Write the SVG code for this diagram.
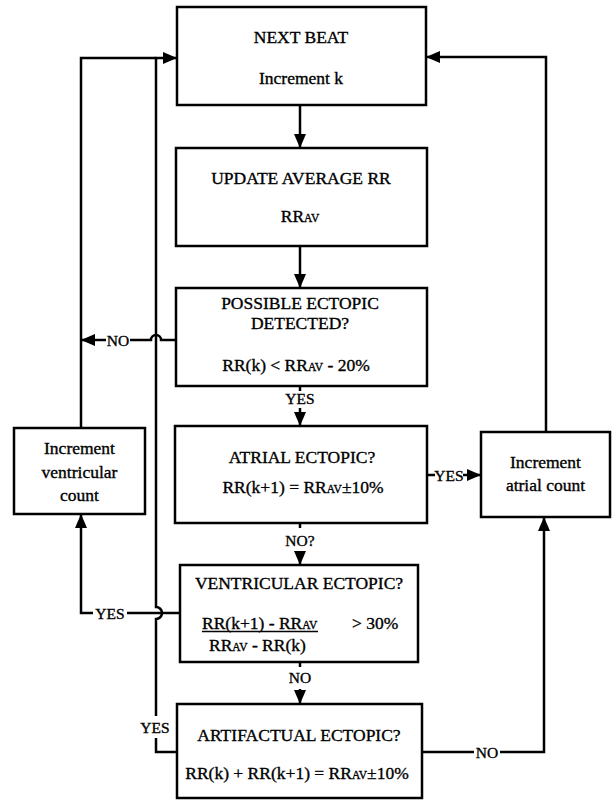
<svg xmlns="http://www.w3.org/2000/svg" width="612" height="801" viewBox="0 0 612 801">
<style>
.box{fill:#fff;stroke:#000;stroke-width:2.5}
text{font-family:'Liberation Serif','DejaVu Serif',serif;fill:#000;stroke:#000;stroke-width:0.35;text-anchor:middle}
.t{font-size:17.5px}
.l{font-size:15.5px}
.s{font-size:11.5px}
.st{text-anchor:start}
.c{fill:none;stroke:#000;stroke-width:2.5}
.a{marker-end:url(#ah)}
</style>
<defs>
<marker id="ah" viewBox="0 0 14 12" refX="14" refY="6" markerWidth="14" markerHeight="12" orient="auto" markerUnits="userSpaceOnUse"><path d="M0,0 L14,6 L0,12 z" fill="#000"/></marker>
</defs>
<rect width="612" height="801" fill="#fff"/>
<g id="connectors">
<path class="c a" d="M300,105 V148"/>
<path class="c a" d="M300,246 V288"/>
<path class="c" d="M300,386 V391"/>
<path class="c a" d="M300,408 V426"/>
<path class="c" d="M300,523 V528"/>
<path class="c a" d="M300,551 V565"/>
<path class="c" d="M300,662 V667"/>
<path class="c a" d="M300,689 V704"/>
<path class="c" d="M176,340 H161 A5,5 0 0 0 151,340 H130"/>
<path class="c a" d="M106,340 H81"/>
<path class="c" d="M81,428 V58 H156"/>
<path class="c" d="M177,752 H156 V738"/>
<path class="c a" d="M156,716 V619 A6,6 0 0 0 156,607 V58 H177"/>
<path class="c" d="M180,613 H127"/>
<path class="c a" d="M93,613 H81 V514"/>
<path class="c" d="M427,475 H435"/>
<path class="c a" d="M463,475 H481"/>
<path class="c a" d="M546,432 V57 H426"/>
<path class="c" d="M422,752 H474"/>
<path class="c a" d="M500,752 H544 V517"/>
<text class="l" x="300" y="403.5">YES</text>
<text class="l" x="300" y="545.5">NO?</text>
<text class="l" x="300" y="682.5">NO</text>
<text class="l" x="118" y="345.5">NO</text>
<text class="l" x="110" y="618.5">YES</text>
<text class="l" x="449" y="480.5">YES</text>
<text class="l" x="487" y="757.5">NO</text>
<text class="l" x="155" y="732.5">YES</text>
</g>
<g id="next-beat">
<rect class="box" x="177" y="7" width="249" height="98"/>
<text class="t" x="301" y="43">NEXT  BEAT</text>
<text class="t" x="301" y="84">Increment k</text>
</g>
<g id="update-average">
<rect class="box" x="176" y="148" width="251" height="98"/>
<text class="t" x="301" y="184">UPDATE AVERAGE RR</text>
<text class="t" x="300" y="222">RR<tspan class="s">AV</tspan></text>
</g>
<g id="possible-ectopic">
<rect class="box" x="176" y="288" width="251" height="98"/>
<text class="t" x="300" y="309">POSSIBLE  ECTOPIC</text>
<text class="t" x="300" y="329">DETECTED?</text>
<text class="t" x="296" y="371">RR(k) &lt; RR<tspan class="s">AV</tspan> - 20%</text>
</g>
<g id="atrial-ectopic">
<rect class="box" x="175" y="426" width="252" height="97"/>
<text class="t" x="302" y="463">ATRIAL ECTOPIC?</text>
<text class="t" x="303" y="493">RR(k+1) = RR<tspan class="s">AV</tspan>±10%</text>
</g>
<g id="ventricular-ectopic">
<rect class="box" x="180" y="565" width="238" height="97"/>
<text class="t" x="299" y="589">VENTRICULAR ECTOPIC?</text>
<text class="t st" x="202" y="629">RR(k+1) - RR<tspan class="s">AV</tspan></text>
<line x1="202" y1="631.5" x2="318" y2="631.5" stroke="#000" stroke-width="1.5"/>
<text class="t st" x="352" y="629">&gt; 30%</text>
<text class="t st" x="209" y="651">RR<tspan class="s">AV</tspan> - RR(k)</text>
</g>
<g id="artifactual-ectopic">
<rect class="box" x="177" y="704" width="245" height="94"/>
<text class="t" x="299" y="741">ARTIFACTUAL ECTOPIC?</text>
<text class="t" x="297" y="779">RR(k) + RR(k+1) = RR<tspan class="s">AV</tspan>±10%</text>
</g>
<g id="ventricular-count">
<rect class="box" x="14" y="428" width="131" height="86"/>
<text class="t" x="79.5" y="454">Increment</text>
<text class="t" x="79.5" y="478">ventricular</text>
<text class="t" x="79.5" y="501">count</text>
</g>
<g id="atrial-count">
<rect class="box" x="481" y="432" width="129" height="85"/>
<text class="t" x="545.5" y="468">Increment</text>
<text class="t" x="545.5" y="491">atrial count</text>
</g>
</svg>
